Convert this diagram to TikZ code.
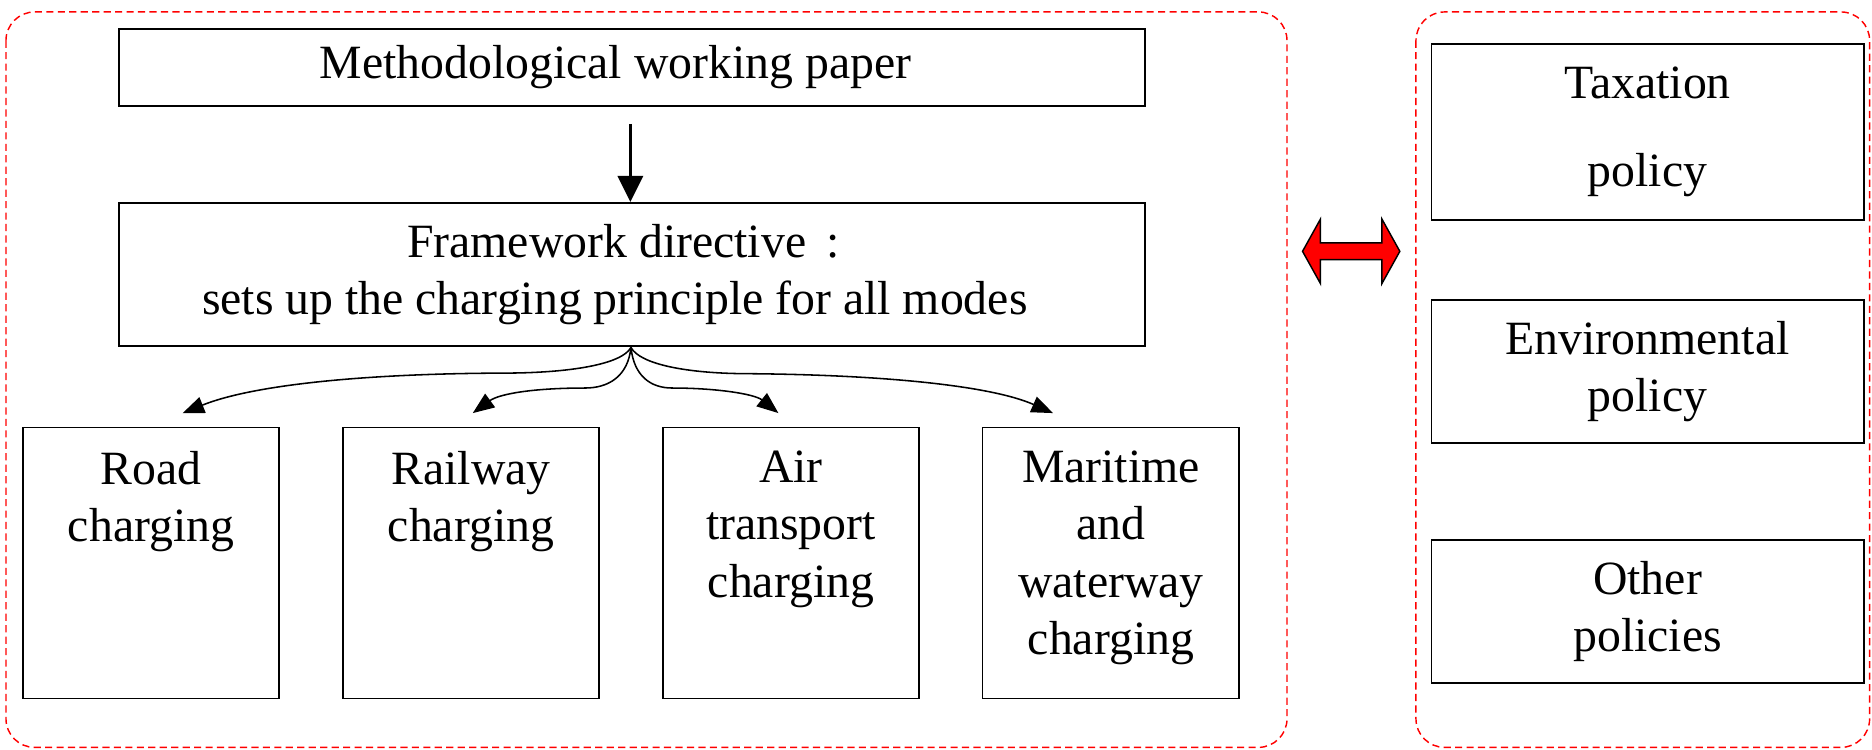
\documentclass[tikz,border=0pt]{standalone}
\usepackage{fontspec}
\setmainfont{Liberation Serif}
\usetikzlibrary{arrows.meta}
\tikzset{
  box/.style={draw=black, line width=0.75pt, inner sep=0pt, align=center,
    font=\fontsize{20}{24}\selectfont},
  label/.style={inner sep=0pt, align=center, anchor=north,
    font=\fontsize{20}{24}\selectfont},
  container/.style={draw=red, line width=0.6pt, dash pattern=on 3pt off 1.8pt,
    rounded corners=12pt},
  branch/.style={line width=0.65pt, -{Triangle[length=9pt,width=7pt]}},
  mainarrow/.style={line width=1.3pt, -{Triangle[length=11pt,width=10.6pt]}},
}
\begin{document}
\begin{tikzpicture}[x=0.5pt, y=-0.5pt]
\useasboundingbox (0,0) rectangle (1568,628);
% containers
\draw[container] (5,10) rectangle (1078,626);
\draw[container] (1186,10) rectangle (1566,626);
% top boxes
\node[box, minimum width=429.5pt, minimum height=32.5pt] (meth) at (529.5,56.5) {Methodological working paper\hspace*{14pt}};
\node[box, minimum width=429.5pt, minimum height=60pt] (fw) at (529.5,230) {Framework directive \,:\hspace*{7.5pt}\\sets up the charging principle for all modes\hspace*{14.5pt}};
\draw[mainarrow, shorten <=7pt] (meth.south -| 528,0) -- (fw.north -| 528,0);
% bottom boxes
\node[box, minimum width=107.5pt, minimum height=113.5pt] (road) at (126.5,471.5) {};
\node[box, minimum width=107.5pt, minimum height=113.5pt] (rail) at (394.5,471.5) {};
\node[box, minimum width=107.5pt, minimum height=113.5pt] (air) at (662.5,471.5) {};
\node[box, minimum width=107.5pt, minimum height=113.5pt] (mar) at (930.5,471.5) {};
\node[label] (roadt) at ([yshift=-10pt]road.north) {Road\\charging};
\node[label] (railt) at ([yshift=-10pt]rail.north) {Railway\\charging};
\node[label] (airt) at ([yshift=-10pt]air.north) {Air\\transport\\charging};
\node[label] (mart) at ([yshift=-10pt]mar.north) {Maritime\\and\\waterway\\charging};
% branch arrow tips
\coordinate (t1) at (153,346);
\coordinate (t2) at (396,346);
\coordinate (t3) at (652,346);
\coordinate (t4) at (882,346);
\coordinate (src) at (528.5,291);
\draw[branch] (src) .. controls (521,305) and (478,312.5) .. (421,312.5)
  .. controls (300,313) and (210,323) .. (t1);
\draw[branch] (src) .. controls (526,315) and (510,325) .. (490,325)
  .. controls (446,325) and (418,330) .. (t2);
\draw[branch] (src) .. controls (531,315) and (545,325) .. (563,325)
  .. controls (600,325) and (632,330) .. (t3);
\draw[branch] (src) .. controls (536,305) and (575,313) .. (628,313)
  .. controls (740,314) and (830,323) .. (t4);
% double arrow
\draw[fill=red, draw=black, line width=0.6pt, line join=miter]
  (1091,210.5) -- (1106,183.5) -- (1106,203.5) -- (1157.5,203.5) -- (1157.5,183.5)
  -- (1172.5,210.5) -- (1157.5,237.5) -- (1157.5,217.5) -- (1106,217.5)
  -- (1106,237.5) -- cycle;
% right boxes
\node[box, minimum width=181pt, minimum height=73.5pt] (tax) at (1380,110.5) {Taxation\\[13pt]policy};
\node[box, minimum width=181pt, minimum height=60pt] (env) at (1380,311) {Environmental\\policy};
\node[box, minimum width=181pt, minimum height=60pt] (oth) at (1380,512) {Other\\policies};
\end{tikzpicture}
\end{document}
